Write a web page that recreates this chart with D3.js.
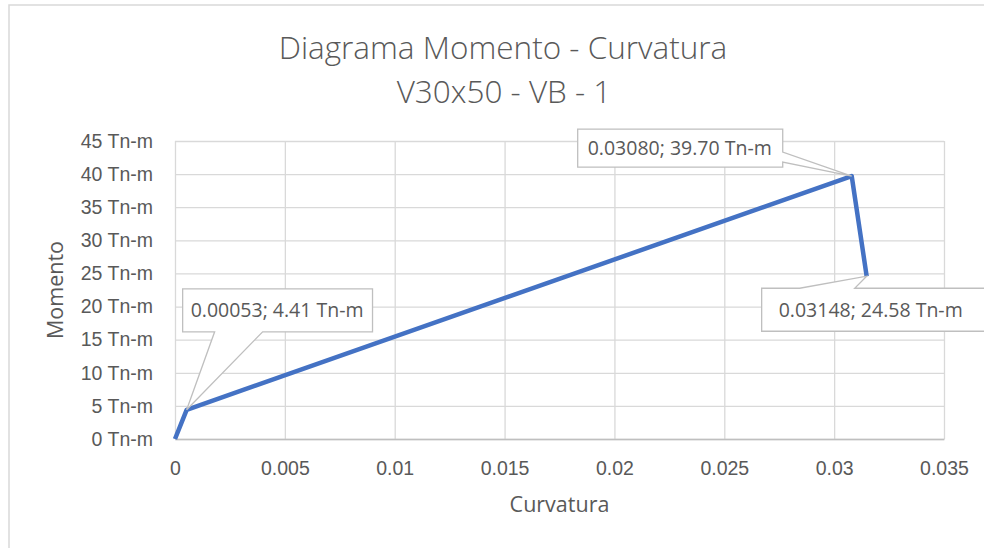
<!DOCTYPE html>
<html>
<head>
<meta charset="utf-8">
<script src="https://cdn.jsdelivr.net/npm/d3@7"></script>
<style>
  body { margin: 0; background: #fff; }
  svg { display: block; font-family: 'Open Sans', sans-serif; }
</style>
</head>
<body>
<svg id="chart" width="984" height="548"></svg>
<script>
// Datos del diagrama
var curvatura = [0, 0.00053, 0.03080, 0.03148]
var momento = [0, 4.41, 39.70, 24.58]
var etiquetados = [1, 2, 3]

var xTicks = [0, 0.005, 0.01, 0.015, 0.02, 0.025, 0.03, 0.035]
var yTicks = [0, 5, 10, 15, 20, 25, 30, 35, 40, 45]

var titulo = ['Diagrama Momento - Curvatura', 'V30x50 - VB - 1']
var tituloX = 'Curvatura'
var tituloY = 'Momento'

// Dimensiones
var width = 984
var height = 548
var margin = { top: 141, right: 40, bottom: 109, left: 175 }
var graphWidth = width - margin.left - margin.right
var graphHeight = height - margin.top - margin.bottom

var gris = '#595959'

// Posicion manual de cada etiqueta (como en Excel): caja relativa al punto y lado de la flecha
var cajas = {
  1: { dx: -4, dy: -121, padL: 8, padR: 9, h: 43, lado: 'bottom', a: 32, b: 80 },
  2: { dx: -69, dy: -47, padL: 10, padR: 11, h: 38, lado: 'right', a: 23, b: 33 },
  3: { dx: -105, dy: 12, padL: 17, padR: 24, h: 43, lado: 'top', a: 38, b: 93 }
}

var data = curvatura.map(function (c, i) { return { x: c, y: momento[i] } })

var svg = d3.select('#chart')

// Borde del area del grafico
svg.append('rect')
  .attr('x', 9).attr('y', 5)
  .attr('width', 1000).attr('height', 560)
  .attr('fill', 'none')
  .attr('stroke', '#d9d9d9')
  .attr('stroke-width', 1.5)

var xScale = d3.scaleLinear().domain([0, 0.035]).range([0, graphWidth])
var yScale = d3.scaleLinear().domain([0, 45]).range([graphHeight, 0])

var graph = svg.append('g')
  .attr('transform', 'translate(' + margin.left + ',' + margin.top + ')')

// Lineas de cuadricula
graph.append('g')
  .call(d3.axisLeft(yScale).tickValues(yTicks).tickSize(-graphWidth).tickFormat(''))
  .call(function (g) {
    g.select('.domain').remove()
    g.selectAll('line').attr('stroke', '#d9d9d9').attr('stroke-width', 1.3)
  })

graph.append('g')
  .attr('transform', 'translate(0,' + graphHeight + ')')
  .call(d3.axisBottom(xScale).tickValues(xTicks).tickSize(-graphHeight).tickFormat(''))
  .call(function (g) {
    g.select('.domain').remove()
    g.selectAll('line').attr('stroke', '#d9d9d9').attr('stroke-width', 1.3)
  })

// Eje X
graph.append('g')
  .attr('transform', 'translate(0,' + graphHeight + ')')
  .call(d3.axisBottom(xScale).tickValues(xTicks).tickSize(0).tickPadding(22)
    .tickFormat(function (d) { return String(d) }))
  .call(function (g) {
    g.select('.domain').attr('stroke', '#bfbfbf').attr('stroke-width', 1.5)
    g.selectAll('text').attr('fill', gris).style('font-size', '19.5px').attr('font-family', null)
  })

// Eje Y
graph.append('g')
  .call(d3.axisLeft(yScale).tickValues(yTicks).tickSize(0).tickPadding(22)
    .tickFormat(function (d) { return d + ' Tn-m' }))
  .call(function (g) {
    g.select('.domain').remove()
    g.selectAll('text').attr('fill', gris).style('font-size', '19.5px').attr('font-family', null)
  })

// Linea de la serie
var line = d3.line()
  .x(function (d) { return xScale(d.x) })
  .y(function (d) { return yScale(d.y) })

graph.append('path')
  .datum(data)
  .attr('d', line)
  .attr('fill', 'none')
  .attr('stroke', '#4472c4')
  .attr('stroke-width', 4.5)
  .attr('stroke-linejoin', 'round')

// Etiquetas de datos con flecha
var fmtX = d3.format('.5f')
var fmtY = d3.format('.2f')

etiquetados.forEach(function (i) {
  var d = data[i]
  var c = cajas[i]
  var px = xScale(d.x)
  var py = yScale(d.y)
  var grp = graph.append('g')
  var txt = grp.append('text')
    .attr('fill', gris)
    .style('font-size', '19.5px')
    .attr('dy', '0.35em')
    .text(fmtX(d.x) + '; ' + fmtY(d.y) + ' Tn-m')
  var w = txt.node().getComputedTextLength() + c.padL + c.padR
  var h = c.h
  // la caja 2 queda a la izquierda del punto
  var x0 = c.lado === 'right' ? px + c.dx - w : px + c.dx
  var y0 = py + c.dy
  var x1 = x0 + w
  var y1 = y0 + h
  var p = d3.path()
  p.moveTo(x0, y0)
  if (c.lado === 'top') {
    p.lineTo(x0 + c.a, y0); p.lineTo(px, py); p.lineTo(x0 + c.b, y0)
  }
  p.lineTo(x1, y0)
  if (c.lado === 'right') {
    p.lineTo(x1, y0 + c.a); p.lineTo(px, py); p.lineTo(x1, y0 + c.b)
  }
  p.lineTo(x1, y1)
  if (c.lado === 'bottom') {
    p.lineTo(x0 + c.b, y1); p.lineTo(px, py); p.lineTo(x0 + c.a, y1)
  }
  p.lineTo(x0, y1)
  p.closePath()
  grp.insert('path', 'text')
    .attr('d', p.toString())
    .attr('fill', '#fff')
    .attr('stroke', '#bfbfbf')
    .attr('stroke-width', 1.3)
  txt.attr('x', x0 + c.padL).attr('y', y0 + h / 2)
})

// Titulo
svg.append('text')
  .attr('x', 503).attr('y', 59)
  .attr('text-anchor', 'middle')
  .attr('fill', gris)
  .style('font-size', '31.5px')
  .style('font-weight', 300)
  .text(titulo[0])

svg.append('text')
  .attr('x', 504).attr('y', 103)
  .attr('text-anchor', 'middle')
  .attr('fill', gris)
  .style('font-size', '31.5px')
  .style('font-weight', 300)
  .text(titulo[1])

// Titulos de ejes
svg.append('text')
  .attr('x', margin.left + graphWidth / 2)
  .attr('y', 512)
  .attr('text-anchor', 'middle')
  .attr('fill', gris)
  .style('font-size', '21.5px')
  .text(tituloX)

svg.append('text')
  .attr('transform', 'translate(63,' + (margin.top + graphHeight / 2) + ') rotate(-90)')
  .attr('text-anchor', 'middle')
  .attr('fill', gris)
  .style('font-size', '21.5px')
  .text(tituloY)
</script>
</body>
</html>
